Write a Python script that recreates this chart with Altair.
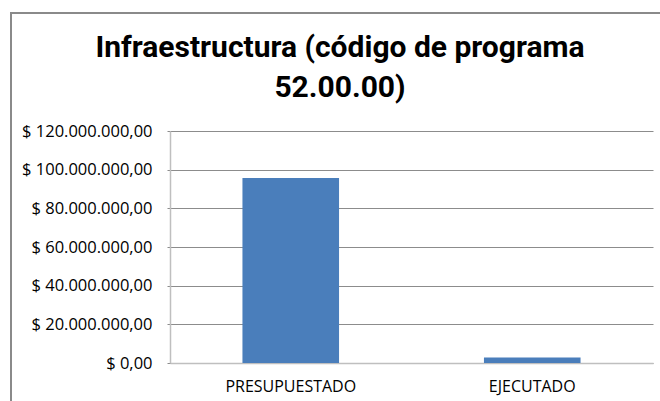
import altair as alt
import pandas as pd

categorias = ["PRESUPUESTADO", "EJECUTADO"]
montos = [95700000, 2900000]
y_ticks = [0, 20000000, 40000000, 60000000, 80000000, 100000000, 120000000]
titulo = ["Infraestructura (código de programa", "52.00.00)"]

df = pd.DataFrame({"categoria": categorias, "monto": montos})

label_expr = ("'$ ' + replace(replace(replace(format(datum.value, ',.2f'), regexp(',', 'g'), '_'),"
              " regexp('\\\\.', 'g'), ','), regexp('_', 'g'), '.')")

bars = alt.Chart(df).mark_bar(color="#4a7ebb").encode(
    x=alt.X("categoria:N", sort=categorias, title=None,
            scale=alt.Scale(paddingInner=0.6, paddingOuter=0.3),
            axis=alt.Axis(labelAngle=0, labelFont="Open Sans", labelFontSize=16,
                          labelColor="#000000", labelPadding=15, ticks=False,
                          domainColor="#bfbfbf", domainWidth=1.5)),
    y=alt.Y("monto:Q", title=None,
            scale=alt.Scale(domain=[0, 120000000], nice=False),
            axis=alt.Axis(values=y_ticks, labelExpr=label_expr, labelFont="Open Sans",
                          labelFontSize=16.5, labelColor="#000000", labelPadding=15,
                          tickSize=3, tickColor="#8c8c8c", domainColor="#bfbfbf",
                          domainWidth=1.5, gridColor="#8c8c8c", gridWidth=1)),
)

frame_left = alt.Chart(alt.Data(values=[{}])).mark_rule(color="#8a8a8a", strokeWidth=2).encode(
    x=alt.value(-159), y=alt.value(-118), y2=alt.value(300))
frame_top = alt.Chart(alt.Data(values=[{}])).mark_rule(color="#8a8a8a", strokeWidth=2).encode(
    x=alt.value(-160), x2=alt.value(520), y=alt.value(-118))

title_text = alt.Chart(alt.Data(values=[{}])).mark_text(
    font="Roboto", fontSize=30, fontWeight="bold", color="#000000",
    align="center", baseline="alphabetic", lineHeight=40,
).encode(x=alt.value(170), y=alt.value(-74), text=alt.value(titulo))

chart = alt.layer(bars, frame_left, frame_top, title_text).properties(
    width=483, height=232,
    padding={"left": 170, "top": 131, "right": 7, "bottom": 38},
    autosize="none",
).configure_view(stroke=None)

chart.save("out.html", embed_options={"renderer": "svg", "actions": False})
